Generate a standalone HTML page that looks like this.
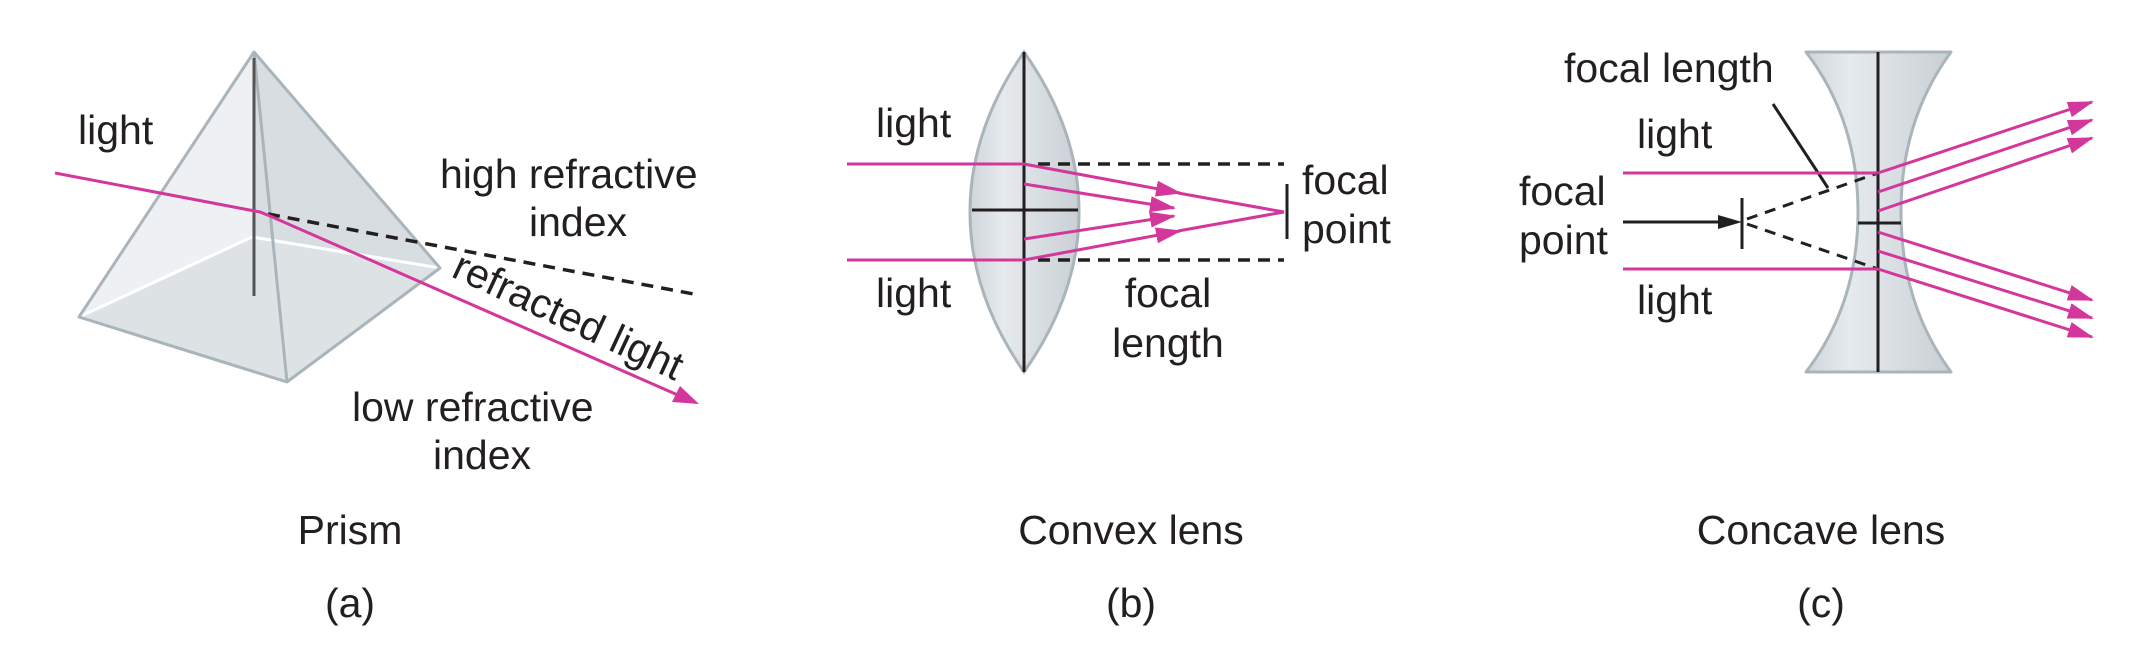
<!DOCTYPE html>
<html><head><meta charset="utf-8"><style>
html,body{margin:0;padding:0;background:#fff;}
svg{display:block;}
text{font-family:"Liberation Sans",Arial,sans-serif;font-size:41px;fill:#231f20;}
</style></head><body>
<svg width="2142" height="660" viewBox="0 0 2142 660" xmlns="http://www.w3.org/2000/svg">
<defs>
<marker id="ar" markerWidth="26" markerHeight="18" refX="24" refY="9" orient="auto" markerUnits="userSpaceOnUse" viewBox="0 0 26 18">
<polygon points="0,1 26,9 0,17" fill="#d4379b"/>
</marker>
<linearGradient id="lg" x1="0" x2="1" y1="0" y2="0">
<stop offset="0" stop-color="#cfd5da"/><stop offset="0.3" stop-color="#e6eaed"/><stop offset="1" stop-color="#c9d0d5"/>
</linearGradient>
</defs>

<!-- Panel a: prism -->
<polygon points="254,52 79,317 287,382 440,268" fill="#dfe4e7"/>
<polygon points="254,52 79,317 252,237" fill="#eef1f3"/>
<polygon points="254,52 252,237 440,268" fill="#d8dde1"/>
<polygon points="79,317 252,237 440,268 287,382" fill="#dde2e5"/>
<polyline points="79,317 252,237 440,268" fill="none" stroke="#ffffff" stroke-width="3"/>
<polygon points="254,52 79,317 287,382 440,268" fill="none" stroke="#a9b4bb" stroke-width="3" stroke-linejoin="round"/>
<line x1="254" y1="52" x2="287" y2="382" stroke="#a9b4bb" stroke-width="3"/>
<line x1="254" y1="58" x2="254" y2="296" stroke="#555" stroke-width="3"/>
<line x1="268" y1="214" x2="699" y2="295" stroke="#231f20" stroke-width="3.5" stroke-dasharray="12,8"/>
<polyline points="55,173 260,212 270,216 680,396" fill="none" stroke="#d4379b" stroke-width="3"/>
<polygon points="699,404 672,402 680,386" fill="#d4379b"/>
<text x="78" y="144">light</text>
<text x="440" y="188">high refractive</text>
<text x="529" y="236">index</text>
<text x="450" y="276" transform="rotate(25 450 276)">refracted light</text>
<text x="352" y="421">low refractive</text>
<text x="433" y="469">index</text>
<text x="350" y="544" text-anchor="middle">Prism</text>
<text x="350" y="617" text-anchor="middle">(a)</text>

<!-- Panel b: convex lens -->
<path d="M1024,52 Q1079,130 1079,212 Q1079,294 1024,372 Q970,294 970,212 Q970,130 1024,52 Z" fill="url(#lg)" stroke="#a9b4bb" stroke-width="3"/>
<line x1="1024" y1="52" x2="1024" y2="372" stroke="#231f20" stroke-width="3"/>
<line x1="972" y1="210" x2="1078" y2="210" stroke="#231f20" stroke-width="3"/>
<path d="M1038,164 H1284 M1038,260 H1284" fill="none" stroke="#231f20" stroke-width="3.5" stroke-dasharray="12,8"/>
<line x1="1287" y1="184" x2="1287" y2="239" stroke="#231f20" stroke-width="3"/>
<g stroke="#d4379b" stroke-width="3" fill="none">
<line x1="847" y1="164" x2="1024" y2="164"/>
<line x1="847" y1="260" x2="1024" y2="260"/>
<line x1="1024" y1="164" x2="1180" y2="193" marker-end="url(#ar)"/>
<line x1="1178" y1="193" x2="1284" y2="212"/>
<line x1="1024" y1="260" x2="1180" y2="231" marker-end="url(#ar)"/>
<line x1="1178" y1="231" x2="1284" y2="212"/>
<line x1="1024" y1="184" x2="1174" y2="208" marker-end="url(#ar)"/>
<line x1="1024" y1="239" x2="1174" y2="216" marker-end="url(#ar)"/>
</g>
<text x="876" y="137">light</text>
<text x="876" y="307">light</text>
<text x="1302" y="194">focal</text>
<text x="1302" y="243">point</text>
<text x="1168" y="307" text-anchor="middle">focal</text>
<text x="1168" y="357" text-anchor="middle">length</text>
<text x="1131" y="544" text-anchor="middle">Convex lens</text>
<text x="1131" y="617" text-anchor="middle">(b)</text>

<!-- Panel c: concave lens -->
<path d="M1806,52 H1951 Q1901,120 1901,212 Q1901,304 1951,372 H1806 Q1858,304 1858,212 Q1858,120 1806,52 Z" fill="url(#lg)" stroke="#a9b4bb" stroke-width="3" stroke-linejoin="round"/>
<line x1="1878" y1="52" x2="1878" y2="372" stroke="#231f20" stroke-width="3"/>
<line x1="1858" y1="223" x2="1901" y2="223" stroke="#231f20" stroke-width="3"/>
<path d="M1747,219 L1878,173 M1747,224 L1878,269" stroke="#231f20" stroke-width="3" stroke-dasharray="11,8" fill="none"/>
<line x1="1742" y1="198" x2="1742" y2="249" stroke="#231f20" stroke-width="3"/>
<line x1="1623" y1="222" x2="1728" y2="222" stroke="#231f20" stroke-width="3"/>
<polygon points="1742,222 1718,215 1718,229" fill="#231f20"/>
<line x1="1773" y1="104" x2="1828" y2="188" stroke="#231f20" stroke-width="3"/>
<g stroke="#d4379b" stroke-width="3" fill="none">
<line x1="1623" y1="173" x2="1878" y2="173"/>
<line x1="1623" y1="269" x2="1878" y2="269"/>
<line x1="1878" y1="173" x2="2092" y2="102" marker-end="url(#ar)"/>
<line x1="1878" y1="192" x2="2092" y2="120" marker-end="url(#ar)"/>
<line x1="1878" y1="211" x2="2092" y2="138" marker-end="url(#ar)"/>
<line x1="1878" y1="232" x2="2092" y2="300" marker-end="url(#ar)"/>
<line x1="1878" y1="251" x2="2092" y2="318" marker-end="url(#ar)"/>
<line x1="1878" y1="269" x2="2092" y2="337" marker-end="url(#ar)"/>
</g>
<text x="1564" y="82">focal length</text>
<text x="1637" y="148">light</text>
<text x="1637" y="314">light</text>
<text x="1519" y="205">focal</text>
<text x="1519" y="254">point</text>
<text x="1821" y="544" text-anchor="middle">Concave lens</text>
<text x="1821" y="617" text-anchor="middle">(c)</text>
</svg>
</body></html>
